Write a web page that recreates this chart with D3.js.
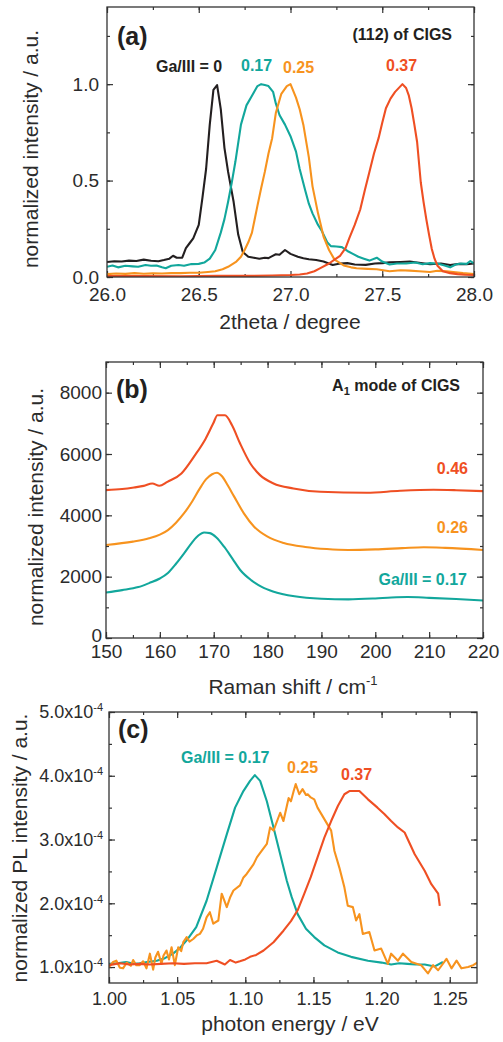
<!DOCTYPE html>
<html>
<head>
<meta charset="utf-8">
<script src="https://cdn.jsdelivr.net/npm/d3@7"></script>
<style>
  body { margin: 0; background: #fff; }
  svg { display: block; font-family: "Liberation Sans", Arial, Helvetica, sans-serif; }
  .tick text { fill: #2b2b2b; font-size: 19px; }
  .tick line { stroke: #333; stroke-width: 1.2; }
  .domain { display: none; }
  .title { fill: #2b2b2b; font-size: 21px; }
  .note { font-weight: bold; font-size: 16px; }
</style>
</head>
<body>
<svg id="chart" width="503" height="1042"></svg>
<script>
// colours
const BLACK = "#231f20", TEAL = "#12a79c", ORANGE = "#f7931e", RED = "#ef4f23";

// (a) XRD (112) peak, normalized intensity vs 2theta
const xrdGa0 = [[26.00,0.078],[26.04,0.082],[26.08,0.080],[26.12,0.085],[26.16,0.083],[26.20,0.090],[26.24,0.084],[26.28,0.082],[26.31,0.088],[26.34,0.095],[26.36,0.110],[26.38,0.100],[26.41,0.100],[26.43,0.150],[26.45,0.175],[26.47,0.200],[26.50,0.270],[26.52,0.410],[26.54,0.560],[26.56,0.790],[26.58,0.970],[26.60,0.995],[26.62,0.870],[26.64,0.670],[26.66,0.545],[26.69,0.390],[26.715,0.220],[26.74,0.130],[26.77,0.105],[26.80,0.100],[26.83,0.095],[26.86,0.100],[26.88,0.098],[26.90,0.108],[26.92,0.118],[26.94,0.115],[26.97,0.140],[27.00,0.120],[27.04,0.105],[27.07,0.097],[27.10,0.092],[27.14,0.088],[27.18,0.080],[27.23,0.062],[27.27,0.070],[27.31,0.072],[27.35,0.065],[27.41,0.063],[27.46,0.070],[27.50,0.072],[27.54,0.076],[27.60,0.078],[27.65,0.080],[27.70,0.074],[27.76,0.066],[27.82,0.070],[27.87,0.062],[27.92,0.068],[27.96,0.066],[28.00,0.070]];
const xrdGa17 = [[26.00,0.053],[26.03,0.060],[26.06,0.050],[26.10,0.058],[26.14,0.055],[26.17,0.053],[26.21,0.062],[26.24,0.058],[26.27,0.060],[26.30,0.050],[26.32,0.045],[26.35,0.058],[26.39,0.062],[26.42,0.058],[26.46,0.067],[26.50,0.068],[26.53,0.075],[26.56,0.095],[26.59,0.140],[26.62,0.230],[26.64,0.300],[26.66,0.390],[26.68,0.490],[26.70,0.600],[26.73,0.790],[26.76,0.890],[26.79,0.940],[26.82,0.990],[26.84,1.000],[26.86,0.995],[26.88,0.990],[26.905,0.960],[26.92,0.900],[26.94,0.840],[26.97,0.790],[27.00,0.730],[27.03,0.650],[27.05,0.560],[27.08,0.450],[27.10,0.380],[27.12,0.330],[27.15,0.270],[27.17,0.240],[27.20,0.180],[27.22,0.160],[27.25,0.158],[27.28,0.155],[27.31,0.135],[27.34,0.120],[27.37,0.105],[27.40,0.095],[27.43,0.085],[27.47,0.100],[27.50,0.080],[27.54,0.065],[27.58,0.070],[27.63,0.070],[27.68,0.075],[27.72,0.066],[27.76,0.072],[27.80,0.070],[27.84,0.060],[27.87,0.050],[27.90,0.065],[27.93,0.070],[27.96,0.068],[27.98,0.083],[28.00,0.070]];
const xrdGa25 = [[26.00,0.015],[26.05,0.018],[26.10,0.016],[26.15,0.020],[26.20,0.017],[26.25,0.019],[26.30,0.018],[26.35,0.020],[26.40,0.020],[26.45,0.022],[26.50,0.022],[26.55,0.026],[26.59,0.030],[26.63,0.040],[26.66,0.053],[26.705,0.080],[26.73,0.105],[26.75,0.140],[26.77,0.180],[26.79,0.230],[26.82,0.370],[26.84,0.460],[26.86,0.545],[26.88,0.640],[26.90,0.720],[26.92,0.850],[26.95,0.950],[26.98,0.990],[27.00,1.000],[27.03,0.930],[27.05,0.870],[27.07,0.790],[27.10,0.620],[27.12,0.470],[27.15,0.330],[27.18,0.210],[27.21,0.140],[27.24,0.090],[27.29,0.060],[27.33,0.050],[27.36,0.045],[27.42,0.042],[27.47,0.040],[27.54,0.030],[27.60,0.035],[27.65,0.033],[27.70,0.030],[27.76,0.026],[27.80,0.032],[27.85,0.030],[27.90,0.025],[27.94,0.020],[28.00,0.015]];
const xrdGa37 = [[26.00,0.005],[26.20,0.005],[26.40,0.004],[26.60,0.006],[26.80,0.006],[26.90,0.008],[27.00,0.010],[27.05,0.013],[27.09,0.018],[27.13,0.030],[27.16,0.045],[27.21,0.070],[27.24,0.090],[27.27,0.110],[27.30,0.150],[27.32,0.200],[27.35,0.270],[27.38,0.350],[27.405,0.450],[27.43,0.545],[27.455,0.640],[27.48,0.720],[27.50,0.800],[27.52,0.875],[27.545,0.925],[27.57,0.960],[27.61,1.000],[27.63,0.980],[27.645,0.940],[27.66,0.875],[27.675,0.790],[27.69,0.700],[27.71,0.490],[27.725,0.390],[27.74,0.300],[27.755,0.220],[27.77,0.145],[27.785,0.095],[27.80,0.060],[27.83,0.030],[27.87,0.020],[27.91,0.015],[27.95,0.012],[28.00,0.010]];

// (b) Raman A1 mode, intensity vs Raman shift (cm-1)
const ramanGa17 = [[150,1484],[153,1560],[156,1660],[158,1790],[160,1940],[161.5,2120],[163,2420],[164.5,2760],[166,3120],[167.2,3350],[168.2,3440],[169.3,3420],[170.5,3280],[172,2960],[173.5,2580],[175,2200],[177,1880],[179,1660],[181,1520],[185,1360],[190,1280],[195,1260],[200,1290],[203,1320],[206,1335],[210,1310],[215,1270],[220,1223]];
const ramanGa26 = [[150,3034],[155,3142],[158,3250],[160,3370],[161.5,3520],[163,3760],[164.5,4070],[166,4450],[167.4,4870],[168.6,5180],[169.7,5340],[170.6,5390],[171.5,5280],[172.6,4980],[173.8,4610],[175.6,4065],[177.5,3629],[180,3304],[183,3100],[187,2970],[191,2900],[195,2871],[200,2890],[205,2930],[209,2960],[213,2940],[220,2871]];
const ramanGa46 = [[150,4823],[153,4860],[155.2,4910],[157,4960],[158.6,5040],[159.9,4963],[161.4,5093],[164,5366],[166.4,5930],[168.5,6500],[169.9,6992],[170.7,7262],[172.1,7262],[173.4,6937],[174.9,6341],[176.8,5691],[178.6,5311],[181.1,5040],[184.8,4878],[189.8,4768],[198.4,4735],[204.6,4800],[210.8,4833],[215,4820],[220,4790]];

// (c) PL, intensity in units of 1e-4 vs photon energy (eV)
const plGa17 = [[1.000,1.05],[1.006,1.06],[1.0127,1.08],[1.018,1.05],[1.0225,1.06],[1.028,1.08],[1.035,1.10],[1.041,1.14],[1.047,1.21],[1.052,1.30],[1.057,1.42],[1.064,1.625],[1.0716,2.04],[1.079,2.56],[1.0864,3.08],[1.0925,3.5],[1.0986,3.76],[1.1035,3.92],[1.107,4.01],[1.1109,3.92],[1.1158,3.6],[1.1207,3.19],[1.1256,2.77],[1.1305,2.35],[1.134,2.1],[1.1384,1.83],[1.1445,1.6],[1.1506,1.47],[1.158,1.34],[1.1678,1.23],[1.1776,1.16],[1.19,1.10],[1.2,1.07],[1.207,1.04],[1.213,1.06],[1.219,1.05],[1.225,1.04],[1.2316,1.04],[1.239,1.01],[1.245,1.08]];
const plGa25 = [[1.000,1.00],[1.003,1.08],[1.0054,1.10],[1.008,0.99],[1.0103,0.98],[1.013,1.07],[1.016,1.02],[1.0177,1.11],[1.020,1.03],[1.0225,1.03],[1.025,1.09],[1.0275,0.98],[1.03,1.21],[1.0324,0.96],[1.034,1.15],[1.036,1.24],[1.0385,1.05],[1.040,1.18],[1.0422,1.26],[1.044,1.12],[1.0459,1.31],[1.0483,1.03],[1.0508,1.31],[1.053,1.25],[1.0545,1.39],[1.057,1.47],[1.059,1.40],[1.0618,1.44],[1.0645,1.50],[1.0667,1.52],[1.069,1.60],[1.0716,1.78],[1.074,1.86],[1.0765,1.68],[1.0802,1.73],[1.0827,2.15],[1.0845,2.05],[1.0864,1.94],[1.089,2.10],[1.0913,2.20],[1.0961,2.28],[1.0985,2.40],[1.101,2.46],[1.106,2.61],[1.1085,2.72],[1.1109,2.79],[1.1158,2.93],[1.1182,3.19],[1.1207,3.14],[1.1256,3.42],[1.128,3.29],[1.1318,3.65],[1.1335,3.60],[1.1355,3.76],[1.137,3.87],[1.1396,3.71],[1.142,3.79],[1.1445,3.70],[1.1458,3.71],[1.148,3.66],[1.1506,3.63],[1.153,3.5],[1.158,3.32],[1.163,3.14],[1.1654,2.82],[1.169,2.56],[1.1727,2.25],[1.1752,1.96],[1.1789,1.94],[1.1813,1.73],[1.1837,1.83],[1.1862,1.52],[1.191,1.55],[1.1948,1.26],[1.1997,1.29],[1.2046,1.05],[1.207,1.21],[1.212,1.10],[1.2157,1.21],[1.2218,1.08],[1.229,1.03],[1.234,0.90],[1.2378,1.03],[1.2415,0.95],[1.2476,1.13],[1.2513,0.98],[1.255,1.10],[1.2586,0.98],[1.2635,1.00],[1.2672,1.03],[1.271,1.08]];
const plGa37 = [[1.000,1.03],[1.008,1.06],[1.015,1.04],[1.0225,1.05],[1.03,1.04],[1.038,1.05],[1.047,1.06],[1.055,1.05],[1.063,1.06],[1.0716,1.06],[1.079,1.10],[1.085,1.04],[1.0888,1.11],[1.093,1.07],[1.096,1.09],[1.1,1.12],[1.1035,1.16],[1.108,1.19],[1.1134,1.26],[1.1207,1.39],[1.128,1.57],[1.1335,1.72],[1.1384,1.89],[1.1433,2.15],[1.148,2.41],[1.153,2.72],[1.158,3.03],[1.163,3.29],[1.168,3.53],[1.1727,3.71],[1.1764,3.76],[1.1837,3.76],[1.19,3.63],[1.197,3.5],[1.202,3.40],[1.207,3.29],[1.212,3.19],[1.2169,3.11],[1.2243,2.77],[1.2316,2.51],[1.2365,2.30],[1.2415,2.15],[1.2427,1.96]];

// tick values
const ticksA_x = [26.0, 26.5, 27.0, 27.5, 28.0];
const ticksA_y = [0.0, 0.5, 1.0];
const ticksB_x = [150, 160, 170, 180, 190, 200, 210, 220];
const ticksB_y = [0, 2000, 4000, 6000, 8000];
const ticksC_x = [1.00, 1.05, 1.10, 1.15, 1.20, 1.25];
const ticksC_y = [1, 2, 3, 4, 5];

const svg = d3.select("#chart");

function panel(o) {
  const x = d3.scaleLinear().domain(o.xDomain).range([o.left, o.right]);
  const y = d3.scaleLinear().domain(o.yDomain).range([o.bottom, o.top]);
  const g = svg.append("g");
  const w = o.right - o.left, h = o.bottom - o.top;

  const clipId = "clip-" + o.id;
  g.append("clipPath").attr("id", clipId)
    .append("rect").attr("x", o.left).attr("y", o.top).attr("width", w).attr("height", h);

  // minor ticks on all four sides (inward)
  const minorX = d3.range(o.xDomain[0], o.xDomain[1] + 1e-9, o.xMinor);
  const minorY = d3.range(Math.ceil(o.yDomain[0] / o.yMinor) * o.yMinor, o.yDomain[1] + 1e-9, o.yMinor);
  g.append("g").attr("transform", `translate(0,${o.bottom})`)
    .call(d3.axisBottom(x).tickValues(minorX).tickSize(-3).tickFormat(""));
  g.append("g").attr("transform", `translate(0,${o.top})`)
    .call(d3.axisTop(x).tickValues(minorX).tickSize(-3).tickFormat(""));
  g.append("g").attr("transform", `translate(${o.left},0)`)
    .call(d3.axisLeft(y).tickValues(minorY).tickSize(-3).tickFormat(""));
  g.append("g").attr("transform", `translate(${o.right},0)`)
    .call(d3.axisRight(y).tickValues(minorY).tickSize(-3).tickFormat(""));

  // major ticks
  const xAxis = g.append("g").attr("transform", `translate(0,${o.bottom})`)
    .call(d3.axisBottom(x).tickValues(o.xTicks).tickSize(-6).tickPadding(o.xPad).tickFormat(o.xFmt));
  g.append("g").attr("transform", `translate(0,${o.top})`)
    .call(d3.axisTop(x).tickValues(o.xTicks).tickSize(-6).tickFormat(""));
  const yAxis = g.append("g").attr("transform", `translate(${o.left},0)`)
    .call(d3.axisLeft(y).tickValues(o.yTicks).tickSize(-6).tickPadding(o.yPad).tickFormat(o.yFmt));
  g.append("g").attr("transform", `translate(${o.right},0)`)
    .call(d3.axisRight(y).tickValues(o.yTicks).tickSize(-6).tickFormat(""));
  if (o.tickSize) {
    xAxis.selectAll(".tick text").style("font-size", o.tickSize + "px");
    yAxis.selectAll(".tick text").style("font-size", o.tickSize + "px");
  }
  if (o.yTickHook) o.yTickHook(yAxis);

  // curves
  const line = d3.line().x(d => x(d[0])).y(d => y(d[1])).curve(o.curve || d3.curveLinear);
  const curves = g.append("g").attr("clip-path", `url(#${clipId})`);
  o.series.forEach(s => {
    curves.append("path").datum(s.data)
      .attr("d", line)
      .attr("fill", "none")
      .attr("stroke", s.color)
      .attr("stroke-width", 2.1)
      .attr("stroke-linejoin", "round");
  });

  // frame
  g.append("rect").attr("x", o.left).attr("y", o.top).attr("width", w).attr("height", h)
    .attr("fill", "none").attr("stroke", "#333").attr("stroke-width", 1.3);

  // axis titles
  const xt = g.append("text").attr("class", "title").attr("x", o.xTitle.x).attr("y", o.xTitle.y)
    .attr("text-anchor", "middle");
  o.xTitle.parts.forEach(p => {
    const t = xt.append("tspan").text(p.t);
    if (p.sup) t.attr("font-size", 13).attr("dy", -9);
  });
  g.append("text").attr("class", "title")
    .attr("transform", `translate(${o.yTitle.x},${o.yTitle.y}) rotate(-90)`)
    .attr("text-anchor", "middle").text(o.yTitle.t);

  // panel letter
  g.append("text").attr("x", o.letter.x).attr("y", o.letter.y)
    .attr("font-weight", "bold").attr("font-size", 25).attr("fill", "#231f20").text(o.letter.t);

  // annotations
  o.notes.forEach(n => {
    const t = g.append("text").attr("class", "note").attr("x", n.x).attr("y", n.y)
      .attr("fill", n.color).attr("text-anchor", n.anchor || "start");
    n.parts.forEach(p => {
      const s = t.append("tspan").text(p.t);
      if (p.sub) s.attr("font-size", 11).attr("dy", 4);
      if (p.after) s.attr("dy", -4);
    });
  });
}

// (a)
panel({
  id: "a", left: 107, right: 474, top: 7, bottom: 277,
  xDomain: [26, 28], yDomain: [0, 1.4],
  xTicks: ticksA_x, yTicks: ticksA_y, xMinor: 0.25, yMinor: 0.25,
  xFmt: d3.format(".1f"), yFmt: d3.format(".1f"), xPad: 10.5, yPad: 8,
  series: [
    { data: xrdGa0, color: BLACK },
    { data: xrdGa17, color: TEAL },
    { data: xrdGa25, color: ORANGE },
    { data: xrdGa37, color: RED }
  ],
  xTitle: { x: 290, y: 329, parts: [{ t: "2theta / degree" }] },
  yTitle: { x: 38, y: 149, t: "normalized intensity / a.u." },
  letter: { x: 117, y: 45, t: "(a)" },
  notes: [
    { x: 452, y: 40, anchor: "end", color: BLACK, parts: [{ t: "(112) of CIGS" }] },
    { x: 156, y: 72, color: BLACK, parts: [{ t: "Ga/III = 0" }] },
    { x: 241, y: 71, color: TEAL, parts: [{ t: "0.17" }] },
    { x: 283, y: 73, color: ORANGE, parts: [{ t: "0.25" }] },
    { x: 386, y: 71, color: RED, parts: [{ t: "0.37" }] }
  ]
});

// (b)
panel({
  id: "b", left: 106, right: 483, top: 362, bottom: 638,
  xDomain: [150, 220], yDomain: [0, 9000],
  xTicks: ticksB_x, yTicks: ticksB_y, xMinor: 5, yMinor: 1000,
  xFmt: d3.format("d"), yFmt: d3.format("d"), xPad: 7, yPad: 4,
  curve: d3.curveMonotoneX,
  yTickHook: axis => {
    // the "0" label sits a little higher so it clears the "150" below it
    axis.selectAll(".tick text").filter(d => d === 0).attr("y", -3);
  },
  series: [
    { data: ramanGa17, color: TEAL },
    { data: ramanGa26, color: ORANGE },
    { data: ramanGa46, color: RED }
  ],
  xTitle: { x: 293, y: 694, parts: [{ t: "Raman shift / cm" }, { t: "-1", sup: true }] },
  yTitle: { x: 43, y: 507, t: "normalized intensity / a.u." },
  letter: { x: 116, y: 398, t: "(b)" },
  notes: [
    { x: 460, y: 391, anchor: "end", color: BLACK, parts: [{ t: "A" }, { t: "1", sub: true }, { t: " mode of CIGS", after: true }] },
    { x: 468, y: 474, anchor: "end", color: RED, parts: [{ t: "0.46" }] },
    { x: 468, y: 533, anchor: "end", color: ORANGE, parts: [{ t: "0.26" }] },
    { x: 467, y: 585, anchor: "end", color: TEAL, parts: [{ t: "Ga/III = 0.17" }] }
  ]
});

// (c)
panel({
  id: "c", left: 109, right: 477, top: 712, bottom: 983,
  xDomain: [1.0, 1.27], yDomain: [0.75, 5.0],
  xTicks: ticksC_x, yTicks: ticksC_y, xMinor: 0.025, yMinor: 0.5,
  xFmt: d3.format(".2f"), yFmt: d3.format(".1f"), xPad: 9, yPad: 6, tickSize: 18,
  yTickHook: axis => {
    axis.selectAll(".tick text").each(function (d) {
      const t = d3.select(this).text(null);
      t.append("tspan").text(d3.format(".1f")(d) + "x10");
      t.append("tspan").attr("font-size", 11).attr("dy", -7).text("-4");
    });
  },
  series: [
    { data: plGa17, color: TEAL },
    { data: plGa25, color: ORANGE },
    { data: plGa37, color: RED }
  ],
  xTitle: { x: 290, y: 1031, parts: [{ t: "photon energy / eV" }] },
  yTitle: { x: 27, y: 848, t: "normalized PL intensity / a.u." },
  letter: { x: 118, y: 738, t: "(c)" },
  notes: [
    { x: 181, y: 763, color: TEAL, parts: [{ t: "Ga/III = 0.17" }] },
    { x: 287, y: 773, color: ORANGE, parts: [{ t: "0.25" }] },
    { x: 341, y: 780, color: RED, parts: [{ t: "0.37" }] }
  ]
});
</script>
</body>
</html>
